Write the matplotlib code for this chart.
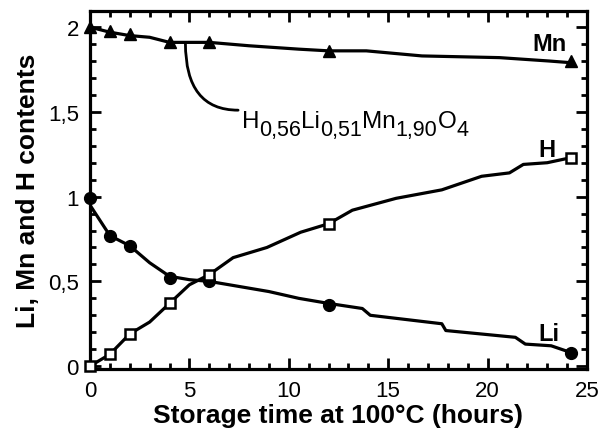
"""
Li, Mn and H contents vs storage time at 100 C.
"""
import matplotlib
matplotlib.use('Agg')
import matplotlib.pyplot as plt
from matplotlib.ticker import MultipleLocator, FixedLocator, FixedFormatter
from matplotlib.transforms import offset_copy

plt.rcParams['font.family'] = ['Liberation Sans', 'DejaVu Sans']

# ---- data ----
t_marks = [0, 1, 2, 4, 6, 12, 24.2]
mn_marks = [2.0, 1.98, 1.96, 1.91, 1.91, 1.86, 1.80]
li_marks = [0.99, 0.77, 0.71, 0.52, 0.50, 0.36, 0.08]
h_marks = [0.0, 0.07, 0.19, 0.37, 0.54, 0.84, 1.23]

# continuous traces
mn_t = [0, 1, 2, 3, 4, 5, 6, 8, 10.5, 12, 13.9, 16.7, 20.6, 23.1, 24.2]
mn_y = [2.0, 1.97, 1.95, 1.94, 1.91, 1.91, 1.91, 1.89, 1.87, 1.86, 1.86,
        1.83, 1.82, 1.80, 1.79]
li_t = [0, 1, 2, 3, 4, 5, 6, 7.5, 9, 10.5, 12, 13.7, 14.1, 17.7, 17.9,
        21.4, 21.9, 23.2, 24.2]
li_y = [0.95, 0.77, 0.71, 0.61, 0.53, 0.51, 0.50, 0.47, 0.44, 0.40, 0.37,
        0.34, 0.30, 0.25, 0.21, 0.17, 0.13, 0.12, 0.08]
h_t = [0, 1, 2, 3, 4, 5, 6, 7.2, 8.9, 10.6, 12, 13.2, 15.4, 17.7, 19.7,
       21.1, 21.8, 23.0, 24.2]
h_y = [0.0, 0.07, 0.19, 0.26, 0.37, 0.48, 0.54, 0.64, 0.70, 0.79, 0.84,
       0.92, 0.99, 1.04, 1.12, 1.14, 1.19, 1.20, 1.23]

x_ticks = [0, 5, 10, 15, 20, 25]
x_labels = ['0', '5', '10', '15', '20', '25']
y_ticks = [0, 0.5, 1, 1.5, 2]
y_labels = ['0', '0,5', '1', '1,5', '2']

# formula pieces: (text, is_subscript)
formula = [('H', False), ('0,56', True), ('Li', False), ('0,51', True),
           ('Mn', False), ('1,90', True), ('O', False), ('4', True)]

INK = 'black'
LW = 2.3

fig = plt.figure(figsize=(6.02, 4.35), dpi=100)
fig.patch.set_facecolor('white')
ax = fig.add_axes([0.1495, 0.149, 0.8255, 0.823])

# curves
ax.plot(mn_t, mn_y, color=INK, lw=LW, zorder=2)
ax.plot(li_t, li_y, color=INK, lw=LW, zorder=2)
ax.plot(h_t, h_y, color=INK, lw=LW, zorder=2)

# markers
ax.plot(t_marks, mn_marks, ls='none', marker='^', ms=9, color=INK,
        clip_on=False, zorder=3)
ax.plot(t_marks, li_marks, ls='none', marker='o', ms=8.5, color=INK,
        clip_on=False, zorder=3)
ax.plot(t_marks, h_marks, ls='none', marker='s', ms=7, mfc='white',
        mec=INK, mew=1.8, clip_on=False, zorder=3)

# series labels
ax.text(23.1, 1.905, 'Mn', fontsize=17, fontweight='bold', ha='center',
        va='center')
ax.text(23.0, 1.28, 'H', fontsize=17, fontweight='bold', ha='center',
        va='center')
ax.text(23.1, 0.19, 'Li', fontsize=17, fontweight='bold', ha='center',
        va='center')

ax.set_xlim(0, 25)
ax.set_ylim(-0.018, 2.094)

# formula callout: curved leader from the Mn trace
ax.annotate('', xy=(4.8, 1.905), xytext=(7.45, 1.51), textcoords='data',
            arrowprops=dict(arrowstyle='-', color=INK, lw=2.0,
                            shrinkA=0, shrinkB=0,
                            connectionstyle='angle3,angleA=180,angleB=90'))

fig.canvas.draw()
renderer = fig.canvas.get_renderer()
dx = 0.0
for piece, sub in formula:
    tr = offset_copy(ax.transData, fig=fig, x=dx, y=-8 if sub else 0,
                     units='dots')
    t = ax.text(7.65, 1.41, piece, fontsize=15.5 if sub else 17.5,
                ha='left', va='baseline', transform=tr)
    dx += t.get_window_extent(renderer).width

ax.xaxis.set_major_locator(FixedLocator(x_ticks))
ax.xaxis.set_major_formatter(FixedFormatter(x_labels))
ax.xaxis.set_minor_locator(MultipleLocator(1))
ax.yaxis.set_major_locator(FixedLocator(y_ticks))
ax.yaxis.set_major_formatter(FixedFormatter(y_labels))
ax.yaxis.set_minor_locator(MultipleLocator(0.1))

ax.tick_params(which='both', direction='in', top=True, right=True,
               labelsize=16, width=2, pad=8)
ax.tick_params(which='major', length=8)
ax.tick_params(which='minor', length=4)
for s in ax.spines.values():
    s.set_linewidth(2.3)

ax.set_xlabel('Storage time at 100°C (hours)', fontsize=19,
              fontweight='bold', labelpad=1)
ax.set_ylabel('Li, Mn and H contents', fontsize=19, fontweight='bold',
              labelpad=6)

plt.savefig('out.png', dpi=100, facecolor='white')
plt.close()
